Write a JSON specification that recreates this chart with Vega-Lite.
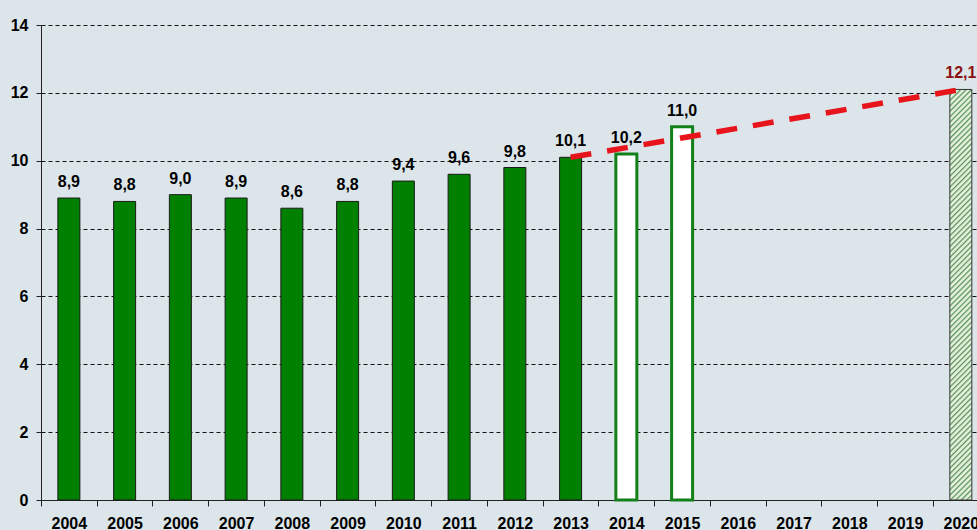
{
  "$schema": "https://vega.github.io/schema/vega-lite/v6.json",
  "width": 936,
  "height": 475,
  "autosize": {"type": "none"},
  "padding": {"left": 41, "top": 25, "right": 0, "bottom": 30},
  "background": "#dce6ea",
  "config": {"view": {"stroke": null}, "font": "Liberation Sans"},
  "data": {
    "values": [
      {"year": 2004, "value": 8.9, "label": "8,9", "kind": "actual"},
      {"year": 2005, "value": 8.8, "label": "8,8", "kind": "actual"},
      {"year": 2006, "value": 9.0, "label": "9,0", "kind": "actual"},
      {"year": 2007, "value": 8.9, "label": "8,9", "kind": "actual"},
      {"year": 2008, "value": 8.6, "label": "8,6", "kind": "actual"},
      {"year": 2009, "value": 8.8, "label": "8,8", "kind": "actual"},
      {"year": 2010, "value": 9.4, "label": "9,4", "kind": "actual"},
      {"year": 2011, "value": 9.6, "label": "9,6", "kind": "actual"},
      {"year": 2012, "value": 9.8, "label": "9,8", "kind": "actual"},
      {"year": 2013, "value": 10.1, "label": "10,1", "kind": "actual"},
      {"year": 2014, "value": 10.2, "label": "10,2", "kind": "estimate"},
      {"year": 2015, "value": 11.0, "label": "11,0", "kind": "estimate"},
      {"year": 2020, "value": 12.1, "label": "12,1", "kind": "target"}
    ]
  },
  "encoding": {
    "x": {
      "field": "year",
      "type": "quantitative",
      "scale": {"domain": [2003.5, 2020.29], "nice": false, "zero": false, "padding": 0},
      "axis": {
        "title": null,
        "values": [2004, 2005, 2006, 2007, 2008, 2009, 2010, 2011, 2012, 2013, 2014, 2015, 2016, 2017, 2018, 2019, 2020],
        "format": "d",
        "grid": false,
        "domainColor": "#222222",
        "tickColor": "#222222",
        "tickSize": 6,
        "tickOffset": -27.9,
        "labelOffset": 27.9,
        "labelPadding": 9,
        "labelFontSize": 16,
        "labelFontWeight": "bold",
        "labelColor": "#000000",
        "labelFlush": false,
        "labelOverlap": false
      }
    },
    "y": {
      "field": "value",
      "type": "quantitative",
      "scale": {"domain": [0, 14], "nice": false, "padding": 0},
      "axis": {
        "title": null,
        "values": [0, 2, 4, 6, 8, 10, 12, 14],
        "grid": true,
        "gridColor": "#111111",
        "gridDash": [4, 3],
        "gridWidth": 1,
        "domainColor": "#222222",
        "tickColor": "#222222",
        "tickSize": 5,
        "labelPadding": 8,
        "labelFontSize": 16,
        "labelFontWeight": "bold",
        "labelColor": "#000000"
      }
    }
  },
  "layer": [
    {
      "transform": [{"filter": "datum.kind === 'actual'"}],
      "mark": {"type": "bar", "width": 22, "fill": "#008000", "stroke": "#1a1a1a", "strokeWidth": 1}
    },
    {
      "transform": [{"filter": "datum.kind === 'estimate'"}],
      "mark": {"type": "bar", "width": 21, "fill": "#ffffff", "stroke": "#13801a", "strokeWidth": 3}
    },
    {
      "transform": [{"filter": "datum.kind === 'target'"}],
      "mark": {
        "type": "bar",
        "width": 22,
        "stroke": "#333333",
        "strokeWidth": 1,
        "fill": {
          "gradient": "linear",
          "x1": 0, "y1": 0, "x2": 0.0563, "y2": 1.0506,
          "stops": [
            {"offset": 0, "color": "#5b925b"}, {"offset": 0.005, "color": "#e3f1dc"}, {"offset": 0.0095, "color": "#e3f1dc"},
            {"offset": 0.0125, "color": "#5b925b"}, {"offset": 0.0175, "color": "#e3f1dc"}, {"offset": 0.022, "color": "#e3f1dc"},
            {"offset": 0.025, "color": "#5b925b"}, {"offset": 0.03, "color": "#e3f1dc"}, {"offset": 0.0345, "color": "#e3f1dc"},
            {"offset": 0.0375, "color": "#5b925b"}, {"offset": 0.0425, "color": "#e3f1dc"}, {"offset": 0.047, "color": "#e3f1dc"},
            {"offset": 0.05, "color": "#5b925b"}, {"offset": 0.055, "color": "#e3f1dc"}, {"offset": 0.0595, "color": "#e3f1dc"},
            {"offset": 0.0625, "color": "#5b925b"}, {"offset": 0.0675, "color": "#e3f1dc"}, {"offset": 0.072, "color": "#e3f1dc"},
            {"offset": 0.075, "color": "#5b925b"}, {"offset": 0.08, "color": "#e3f1dc"}, {"offset": 0.0845, "color": "#e3f1dc"},
            {"offset": 0.0875, "color": "#5b925b"}, {"offset": 0.0925, "color": "#e3f1dc"}, {"offset": 0.097, "color": "#e3f1dc"},
            {"offset": 0.1, "color": "#5b925b"}, {"offset": 0.105, "color": "#e3f1dc"}, {"offset": 0.1095, "color": "#e3f1dc"},
            {"offset": 0.1125, "color": "#5b925b"}, {"offset": 0.1175, "color": "#e3f1dc"}, {"offset": 0.122, "color": "#e3f1dc"},
            {"offset": 0.125, "color": "#5b925b"}, {"offset": 0.13, "color": "#e3f1dc"}, {"offset": 0.1345, "color": "#e3f1dc"},
            {"offset": 0.1375, "color": "#5b925b"}, {"offset": 0.1425, "color": "#e3f1dc"}, {"offset": 0.147, "color": "#e3f1dc"},
            {"offset": 0.15, "color": "#5b925b"}, {"offset": 0.155, "color": "#e3f1dc"}, {"offset": 0.1595, "color": "#e3f1dc"},
            {"offset": 0.1625, "color": "#5b925b"}, {"offset": 0.1675, "color": "#e3f1dc"}, {"offset": 0.172, "color": "#e3f1dc"},
            {"offset": 0.175, "color": "#5b925b"}, {"offset": 0.18, "color": "#e3f1dc"}, {"offset": 0.1845, "color": "#e3f1dc"},
            {"offset": 0.1875, "color": "#5b925b"}, {"offset": 0.1925, "color": "#e3f1dc"}, {"offset": 0.197, "color": "#e3f1dc"},
            {"offset": 0.2, "color": "#5b925b"}, {"offset": 0.205, "color": "#e3f1dc"}, {"offset": 0.2095, "color": "#e3f1dc"},
            {"offset": 0.2125, "color": "#5b925b"}, {"offset": 0.2175, "color": "#e3f1dc"}, {"offset": 0.222, "color": "#e3f1dc"},
            {"offset": 0.225, "color": "#5b925b"}, {"offset": 0.23, "color": "#e3f1dc"}, {"offset": 0.2345, "color": "#e3f1dc"},
            {"offset": 0.2375, "color": "#5b925b"}, {"offset": 0.2425, "color": "#e3f1dc"}, {"offset": 0.247, "color": "#e3f1dc"},
            {"offset": 0.25, "color": "#5b925b"}, {"offset": 0.255, "color": "#e3f1dc"}, {"offset": 0.2595, "color": "#e3f1dc"},
            {"offset": 0.2625, "color": "#5b925b"}, {"offset": 0.2675, "color": "#e3f1dc"}, {"offset": 0.272, "color": "#e3f1dc"},
            {"offset": 0.275, "color": "#5b925b"}, {"offset": 0.28, "color": "#e3f1dc"}, {"offset": 0.2845, "color": "#e3f1dc"},
            {"offset": 0.2875, "color": "#5b925b"}, {"offset": 0.2925, "color": "#e3f1dc"}, {"offset": 0.297, "color": "#e3f1dc"},
            {"offset": 0.3, "color": "#5b925b"}, {"offset": 0.305, "color": "#e3f1dc"}, {"offset": 0.3095, "color": "#e3f1dc"},
            {"offset": 0.3125, "color": "#5b925b"}, {"offset": 0.3175, "color": "#e3f1dc"}, {"offset": 0.322, "color": "#e3f1dc"},
            {"offset": 0.325, "color": "#5b925b"}, {"offset": 0.33, "color": "#e3f1dc"}, {"offset": 0.3345, "color": "#e3f1dc"},
            {"offset": 0.3375, "color": "#5b925b"}, {"offset": 0.3425, "color": "#e3f1dc"}, {"offset": 0.347, "color": "#e3f1dc"},
            {"offset": 0.35, "color": "#5b925b"}, {"offset": 0.355, "color": "#e3f1dc"}, {"offset": 0.3595, "color": "#e3f1dc"},
            {"offset": 0.3625, "color": "#5b925b"}, {"offset": 0.3675, "color": "#e3f1dc"}, {"offset": 0.372, "color": "#e3f1dc"},
            {"offset": 0.375, "color": "#5b925b"}, {"offset": 0.38, "color": "#e3f1dc"}, {"offset": 0.3845, "color": "#e3f1dc"},
            {"offset": 0.3875, "color": "#5b925b"}, {"offset": 0.3925, "color": "#e3f1dc"}, {"offset": 0.397, "color": "#e3f1dc"},
            {"offset": 0.4, "color": "#5b925b"}, {"offset": 0.405, "color": "#e3f1dc"}, {"offset": 0.4095, "color": "#e3f1dc"},
            {"offset": 0.4125, "color": "#5b925b"}, {"offset": 0.4175, "color": "#e3f1dc"}, {"offset": 0.422, "color": "#e3f1dc"},
            {"offset": 0.425, "color": "#5b925b"}, {"offset": 0.43, "color": "#e3f1dc"}, {"offset": 0.4345, "color": "#e3f1dc"},
            {"offset": 0.4375, "color": "#5b925b"}, {"offset": 0.4425, "color": "#e3f1dc"}, {"offset": 0.447, "color": "#e3f1dc"},
            {"offset": 0.45, "color": "#5b925b"}, {"offset": 0.455, "color": "#e3f1dc"}, {"offset": 0.4595, "color": "#e3f1dc"},
            {"offset": 0.4625, "color": "#5b925b"}, {"offset": 0.4675, "color": "#e3f1dc"}, {"offset": 0.472, "color": "#e3f1dc"},
            {"offset": 0.475, "color": "#5b925b"}, {"offset": 0.48, "color": "#e3f1dc"}, {"offset": 0.4845, "color": "#e3f1dc"},
            {"offset": 0.4875, "color": "#5b925b"}, {"offset": 0.4925, "color": "#e3f1dc"}, {"offset": 0.497, "color": "#e3f1dc"},
            {"offset": 0.5, "color": "#5b925b"}, {"offset": 0.505, "color": "#e3f1dc"}, {"offset": 0.5095, "color": "#e3f1dc"},
            {"offset": 0.5125, "color": "#5b925b"}, {"offset": 0.5175, "color": "#e3f1dc"}, {"offset": 0.522, "color": "#e3f1dc"},
            {"offset": 0.525, "color": "#5b925b"}, {"offset": 0.53, "color": "#e3f1dc"}, {"offset": 0.5345, "color": "#e3f1dc"},
            {"offset": 0.5375, "color": "#5b925b"}, {"offset": 0.5425, "color": "#e3f1dc"}, {"offset": 0.547, "color": "#e3f1dc"},
            {"offset": 0.55, "color": "#5b925b"}, {"offset": 0.555, "color": "#e3f1dc"}, {"offset": 0.5595, "color": "#e3f1dc"},
            {"offset": 0.5625, "color": "#5b925b"}, {"offset": 0.5675, "color": "#e3f1dc"}, {"offset": 0.572, "color": "#e3f1dc"},
            {"offset": 0.575, "color": "#5b925b"}, {"offset": 0.58, "color": "#e3f1dc"}, {"offset": 0.5845, "color": "#e3f1dc"},
            {"offset": 0.5875, "color": "#5b925b"}, {"offset": 0.5925, "color": "#e3f1dc"}, {"offset": 0.597, "color": "#e3f1dc"},
            {"offset": 0.6, "color": "#5b925b"}, {"offset": 0.605, "color": "#e3f1dc"}, {"offset": 0.6095, "color": "#e3f1dc"},
            {"offset": 0.6125, "color": "#5b925b"}, {"offset": 0.6175, "color": "#e3f1dc"}, {"offset": 0.622, "color": "#e3f1dc"},
            {"offset": 0.625, "color": "#5b925b"}, {"offset": 0.63, "color": "#e3f1dc"}, {"offset": 0.6345, "color": "#e3f1dc"},
            {"offset": 0.6375, "color": "#5b925b"}, {"offset": 0.6425, "color": "#e3f1dc"}, {"offset": 0.647, "color": "#e3f1dc"},
            {"offset": 0.65, "color": "#5b925b"}, {"offset": 0.655, "color": "#e3f1dc"}, {"offset": 0.6595, "color": "#e3f1dc"},
            {"offset": 0.6625, "color": "#5b925b"}, {"offset": 0.6675, "color": "#e3f1dc"}, {"offset": 0.672, "color": "#e3f1dc"},
            {"offset": 0.675, "color": "#5b925b"}, {"offset": 0.68, "color": "#e3f1dc"}, {"offset": 0.6845, "color": "#e3f1dc"},
            {"offset": 0.6875, "color": "#5b925b"}, {"offset": 0.6925, "color": "#e3f1dc"}, {"offset": 0.697, "color": "#e3f1dc"},
            {"offset": 0.7, "color": "#5b925b"}, {"offset": 0.705, "color": "#e3f1dc"}, {"offset": 0.7095, "color": "#e3f1dc"},
            {"offset": 0.7125, "color": "#5b925b"}, {"offset": 0.7175, "color": "#e3f1dc"}, {"offset": 0.722, "color": "#e3f1dc"},
            {"offset": 0.725, "color": "#5b925b"}, {"offset": 0.73, "color": "#e3f1dc"}, {"offset": 0.7345, "color": "#e3f1dc"},
            {"offset": 0.7375, "color": "#5b925b"}, {"offset": 0.7425, "color": "#e3f1dc"}, {"offset": 0.747, "color": "#e3f1dc"},
            {"offset": 0.75, "color": "#5b925b"}, {"offset": 0.755, "color": "#e3f1dc"}, {"offset": 0.7595, "color": "#e3f1dc"},
            {"offset": 0.7625, "color": "#5b925b"}, {"offset": 0.7675, "color": "#e3f1dc"}, {"offset": 0.772, "color": "#e3f1dc"},
            {"offset": 0.775, "color": "#5b925b"}, {"offset": 0.78, "color": "#e3f1dc"}, {"offset": 0.7845, "color": "#e3f1dc"},
            {"offset": 0.7875, "color": "#5b925b"}, {"offset": 0.7925, "color": "#e3f1dc"}, {"offset": 0.797, "color": "#e3f1dc"},
            {"offset": 0.8, "color": "#5b925b"}, {"offset": 0.805, "color": "#e3f1dc"}, {"offset": 0.8095, "color": "#e3f1dc"},
            {"offset": 0.8125, "color": "#5b925b"}, {"offset": 0.8175, "color": "#e3f1dc"}, {"offset": 0.822, "color": "#e3f1dc"},
            {"offset": 0.825, "color": "#5b925b"}, {"offset": 0.83, "color": "#e3f1dc"}, {"offset": 0.8345, "color": "#e3f1dc"},
            {"offset": 0.8375, "color": "#5b925b"}, {"offset": 0.8425, "color": "#e3f1dc"}, {"offset": 0.847, "color": "#e3f1dc"},
            {"offset": 0.85, "color": "#5b925b"}, {"offset": 0.855, "color": "#e3f1dc"}, {"offset": 0.8595, "color": "#e3f1dc"},
            {"offset": 0.8625, "color": "#5b925b"}, {"offset": 0.8675, "color": "#e3f1dc"}, {"offset": 0.872, "color": "#e3f1dc"},
            {"offset": 0.875, "color": "#5b925b"}, {"offset": 0.88, "color": "#e3f1dc"}, {"offset": 0.8845, "color": "#e3f1dc"},
            {"offset": 0.8875, "color": "#5b925b"}, {"offset": 0.8925, "color": "#e3f1dc"}, {"offset": 0.897, "color": "#e3f1dc"},
            {"offset": 0.9, "color": "#5b925b"}, {"offset": 0.905, "color": "#e3f1dc"}, {"offset": 0.9095, "color": "#e3f1dc"},
            {"offset": 0.9125, "color": "#5b925b"}, {"offset": 0.9175, "color": "#e3f1dc"}, {"offset": 0.922, "color": "#e3f1dc"},
            {"offset": 0.925, "color": "#5b925b"}, {"offset": 0.93, "color": "#e3f1dc"}, {"offset": 0.9345, "color": "#e3f1dc"},
            {"offset": 0.9375, "color": "#5b925b"}, {"offset": 0.9425, "color": "#e3f1dc"}, {"offset": 0.947, "color": "#e3f1dc"},
            {"offset": 0.95, "color": "#5b925b"}, {"offset": 0.955, "color": "#e3f1dc"}, {"offset": 0.9595, "color": "#e3f1dc"},
            {"offset": 0.9625, "color": "#5b925b"}, {"offset": 0.9675, "color": "#e3f1dc"}, {"offset": 0.972, "color": "#e3f1dc"},
            {"offset": 0.975, "color": "#5b925b"}, {"offset": 0.98, "color": "#e3f1dc"}, {"offset": 0.9845, "color": "#e3f1dc"},
            {"offset": 0.9875, "color": "#5b925b"}, {"offset": 0.9925, "color": "#e3f1dc"}, {"offset": 1, "color": "#e3f1dc"}
          ]
        }
      }
    },
    {
      "transform": [{"filter": "datum.year === 2013 || datum.year === 2020"}],
      "mark": {"type": "line", "color": "#e8141c", "strokeWidth": 5.5, "strokeDash": [21, 16], "strokeCap": "butt"}
    },
    {
      "transform": [{"filter": "datum.kind !== 'target'"}],
      "mark": {"type": "text", "baseline": "bottom", "dy": -8, "fontSize": 16, "fontWeight": "bold", "color": "#000000"},
      "encoding": {"text": {"field": "label"}}
    },
    {
      "transform": [{"filter": "datum.kind === 'target'"}],
      "mark": {"type": "text", "baseline": "bottom", "dy": -8, "fontSize": 16, "fontWeight": "bold", "color": "#8b1010"},
      "encoding": {"text": {"field": "label"}}
    }
  ]
}
